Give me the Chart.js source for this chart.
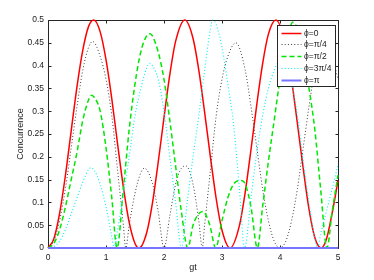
<!DOCTYPE html>
<html>
<head>
<meta charset="utf-8">
<script src="https://cdn.jsdelivr.net/npm/chart.js@4.4.1/dist/chart.umd.min.js"></script>
<style>
  html, body { margin: 0; padding: 0; background: #fff; }
  #wrap { position: relative; width: 374px; height: 280px; }
</style>
</head>
<body>
<div id="wrap"><canvas id="chart"></canvas></div>
<script>
const seriesLabels = ["ϕ=0", "ϕ=π/4", "ϕ=π/2", "ϕ=3π/4", "ϕ=π"]
const xTicks = [0, 1, 2, 3, 4, 5]
const yTicks = [0, 0.05, 0.1, 0.15, 0.2, 0.25, 0.3, 0.35, 0.4, 0.45, 0.5]

// phi = 0
const gtPhi0 = [0, 0.1, 0.2, 0.3, 0.4, 0.5, 0.6, 0.7, 0.79, 0.9, 1.0, 1.1, 1.2, 1.3, 1.4, 1.5, 1.57, 1.7, 1.8, 1.9, 2.0, 2.1, 2.2, 2.36, 2.5, 2.6, 2.7, 2.8, 2.9, 3.0, 3.14, 3.3, 3.4, 3.5, 3.6, 3.7, 3.8, 3.93, 4.1, 4.2, 4.3, 4.4, 4.5, 4.6, 4.71, 4.8, 4.9, 5.0]
const cPhi0 = [0, 0.02, 0.076, 0.159, 0.257, 0.354, 0.434, 0.486, 0.5, 0.474, 0.413, 0.327, 0.228, 0.133, 0.056, 0.01, 0, 0.033, 0.098, 0.188, 0.286, 0.38, 0.453, 0.5, 0.46, 0.39, 0.298, 0.2, 0.108, 0.039, 0, 0.049, 0.122, 0.216, 0.315, 0.404, 0.469, 0.5, 0.444, 0.368, 0.273, 0.175, 0.085, 0.023, 0, 0.019, 0.077, 0.148]

// phi = pi/4
const gtPhi1 = [0, 0.1, 0.2, 0.3, 0.4, 0.5, 0.6, 0.7, 0.77, 0.9, 1.0, 1.1, 1.2, 1.3, 1.34, 1.4, 1.5, 1.6, 1.66, 1.8, 1.9, 2.0, 2.1, 2.2, 2.3, 2.38, 2.5, 2.6, 2.66, 2.7, 2.8, 2.9, 3.0, 3.1, 3.24, 3.4, 3.5, 3.6, 3.7, 3.8, 3.9, 4.0, 4.1, 4.2, 4.3, 4.4, 4.5, 4.6, 4.7, 4.77, 4.9, 5.0]
const cPhi1 = [0, 0.015, 0.06, 0.13, 0.22, 0.31, 0.39, 0.44, 0.453, 0.42, 0.37, 0.29, 0.17, 0.05, 0, 0.05, 0.12, 0.165, 0.175, 0.142, 0.08, 0, 0.07, 0.14, 0.175, 0.18, 0.14, 0.06, 0, 0.05, 0.17, 0.29, 0.37, 0.42, 0.45, 0.39, 0.31, 0.22, 0.13, 0.06, 0.015, 0, 0.015, 0.06, 0.13, 0.22, 0.31, 0.39, 0.44, 0.453, 0.42, 0.37]

// phi = pi/2
const gtPhi2 = [0, 0.1, 0.2, 0.3, 0.4, 0.5, 0.6, 0.7, 0.75, 0.8, 0.9, 1.0, 1.1, 1.19, 1.3, 1.4, 1.5, 1.6, 1.7, 1.76, 1.8, 1.9, 2.0, 2.1, 2.2, 2.3, 2.41, 2.5, 2.6, 2.67, 2.75, 2.8, 2.89, 3.0, 3.1, 3.2, 3.33, 3.4, 3.5, 3.61, 3.7, 3.8, 3.9, 4.0, 4.1, 4.22, 4.3, 4.4, 4.5, 4.6, 4.7, 4.81, 4.9, 5.0]
const cPhi2 = [0, 0.01, 0.04, 0.09, 0.15, 0.21, 0.28, 0.325, 0.335, 0.33, 0.30, 0.22, 0.11, 0, 0.13, 0.26, 0.36, 0.43, 0.465, 0.47, 0.465, 0.43, 0.37, 0.28, 0.18, 0.08, 0, 0.05, 0.075, 0.08, 0.065, 0.045, 0, 0.06, 0.11, 0.14, 0.148, 0.14, 0.09, 0, 0.09, 0.19, 0.28, 0.37, 0.44, 0.495, 0.48, 0.42, 0.35, 0.26, 0.13, 0, 0.08, 0.16]

// phi = 3pi/4
const gtPhi3 = [0, 0.1, 0.2, 0.3, 0.4, 0.5, 0.6, 0.7, 0.74, 0.8, 0.9, 1.0, 1.1, 1.14, 1.2, 1.3, 1.4, 1.5, 1.6, 1.7, 1.75, 1.8, 1.9, 2.0, 2.1, 2.2, 2.3, 2.4, 2.5, 2.6, 2.7, 2.8, 2.84, 2.9, 3.0, 3.1, 3.2, 3.3, 3.39, 3.5, 3.6, 3.7, 3.8, 3.9, 4.0, 4.1, 4.2, 4.3, 4.4, 4.5, 4.6, 4.65, 4.7, 4.8, 4.9, 5.0]
const cPhi3 = [0, 0.003, 0.015, 0.04, 0.075, 0.11, 0.145, 0.172, 0.176, 0.17, 0.14, 0.09, 0.025, 0, 0.04, 0.12, 0.2, 0.29, 0.35, 0.395, 0.405, 0.4, 0.37, 0.3, 0.2, 0.1, 0, 0.1, 0.2, 0.29, 0.39, 0.48, 0.5, 0.49, 0.44, 0.36, 0.27, 0.13, 0, 0.11, 0.21, 0.29, 0.35, 0.39, 0.41, 0.4, 0.36, 0.29, 0.19, 0.1, 0.02, 0, 0.03, 0.08, 0.13, 0.183]

// phi = pi
const gtPhi4 = [0, 5]
const cPhi4 = [0, 0]

const textColor = "#1a1a1a"
const axisColor = "#262626"
Chart.defaults.font.family = "'Liberation Sans', Arial, Helvetica, sans-serif"

function points(xs, ys) {
  return xs.map((x, i) => ({ x, y: ys[i] }))
}

// MATLAB style box with inward ticks on all four sides
const boxPlugin = {
  id: "matlabBox",
  beforeDatasetsDraw(chart) {
    const { ctx, chartArea: a, scales: { x, y } } = chart
    const L = Math.round(a.left) + 0.5
    const R = Math.round(a.right) + 0.5
    const T = Math.round(a.top) + 0.5
    const B = Math.round(a.bottom) + 0.5
    const tick = 3
    ctx.save()
    ctx.strokeStyle = axisColor
    ctx.lineWidth = 1
    ctx.beginPath()
    ctx.rect(L, T, R - L, B - T)
    xTicks.forEach((v) => {
      const px = Math.round(x.getPixelForValue(v)) + 0.5
      ctx.moveTo(px, B); ctx.lineTo(px, B - tick)
      ctx.moveTo(px, T); ctx.lineTo(px, T + tick)
    })
    yTicks.forEach((v) => {
      const py = Math.round(y.getPixelForValue(v)) + 0.5
      ctx.moveTo(L, py); ctx.lineTo(L + tick, py)
      ctx.moveTo(R, py); ctx.lineTo(R - tick, py)
    })
    ctx.stroke()
    ctx.restore()
  }
}

const legendPlugin = {
  id: "boxLegend",
  afterDatasetsDraw(chart) {
    const { ctx, chartArea: a } = chart
    const w = 58
    const h = 61
    const right = Math.round(a.right) - 3
    const left = right - w
    const top = Math.round(a.top) + 5
    const rowH = 11.75
    ctx.save()
    ctx.fillStyle = "#fff"
    ctx.fillRect(left, top, w, h)
    ctx.strokeStyle = axisColor
    ctx.lineWidth = 1
    ctx.strokeRect(left + 0.5, top + 0.5, w, h)
    ctx.font = "8.5px 'Liberation Sans', Arial, sans-serif"
    ctx.textBaseline = "middle"
    chart.data.datasets.forEach((ds, i) => {
      const yy = Math.round(top + 7.5 + i * rowH) + 0.5
      ctx.setLineDash(ds.borderDash || [])
      ctx.strokeStyle = ds.borderColor
      ctx.lineWidth = ds.borderWidth
      ctx.beginPath()
      ctx.moveTo(left + 4.5, yy)
      ctx.lineTo(left + 24.5, yy)
      ctx.stroke()
      ctx.setLineDash([])
      ctx.fillStyle = textColor
      ctx.fillText(ds.label, left + 27, yy)
    })
    ctx.restore()
  }
}

const styles = [
  { color: "#ff0000", width: 1.5, dash: [] },
  { color: "#3c3c3c", width: 1, dash: [1, 2.2] },
  { color: "#00e600", width: 1.5, dash: [5, 3] },
  { color: "#00f0f0", width: 1.1, dash: [1, 2.2] },
  { color: "#7575ff", width: 2, dash: [] }
]
const xs = [gtPhi0, gtPhi1, gtPhi2, gtPhi3, gtPhi4]
const ys = [cPhi0, cPhi1, cPhi2, cPhi3, cPhi4]

new Chart(document.getElementById("chart"), {
  type: "line",
  data: {
    datasets: seriesLabels.map((label, i) => ({
      label,
      data: points(xs[i], ys[i]),
      borderColor: styles[i].color,
      borderWidth: styles[i].width,
      borderDash: styles[i].dash,
      pointRadius: 0,
      fill: false,
      clip: false,
      order: 5 - i
    }))
  },
  options: {
    responsive: true,
    maintainAspectRatio: false,
    animation: false,
    layout: { padding: { top: 20, right: 36, left: 0, bottom: 0 } },
    elements: { line: { tension: 0.4, cubicInterpolationMode: "monotone" } },
    plugins: { legend: { display: false }, tooltip: { enabled: false } },
    scales: {
      x: {
        type: "linear",
        min: 0,
        max: 5,
        afterBuildTicks: (scale) => { scale.ticks = xTicks.map((v) => ({ value: v })) },
        afterFit: (scale) => { scale.height = 32 },
        grid: { display: false, drawTicks: false, tickLength: 0 },
        border: { display: false },
        ticks: { padding: 5, color: textColor, font: { size: 8.5 }, maxRotation: 0, callback: (v) => String(v) },
        title: { display: true, text: "gt", color: textColor, font: { size: 9 }, padding: { top: 0, bottom: 7 } }
      },
      y: {
        type: "linear",
        min: 0,
        max: 0.5,
        afterBuildTicks: (scale) => { scale.ticks = yTicks.map((v) => ({ value: v })) },
        afterFit: (scale) => { scale.width = 48 },
        grid: { display: false, drawTicks: false, tickLength: 0 },
        border: { display: false },
        ticks: { padding: 4, color: textColor, font: { size: 8.5 }, callback: (v) => String(v) },
        title: { display: true, text: "Concurrence", color: textColor, font: { size: 9 }, padding: { top: 15, bottom: 0 } }
      }
    }
  },
  plugins: [boxPlugin, legendPlugin]
})
</script>
</body>
</html>
